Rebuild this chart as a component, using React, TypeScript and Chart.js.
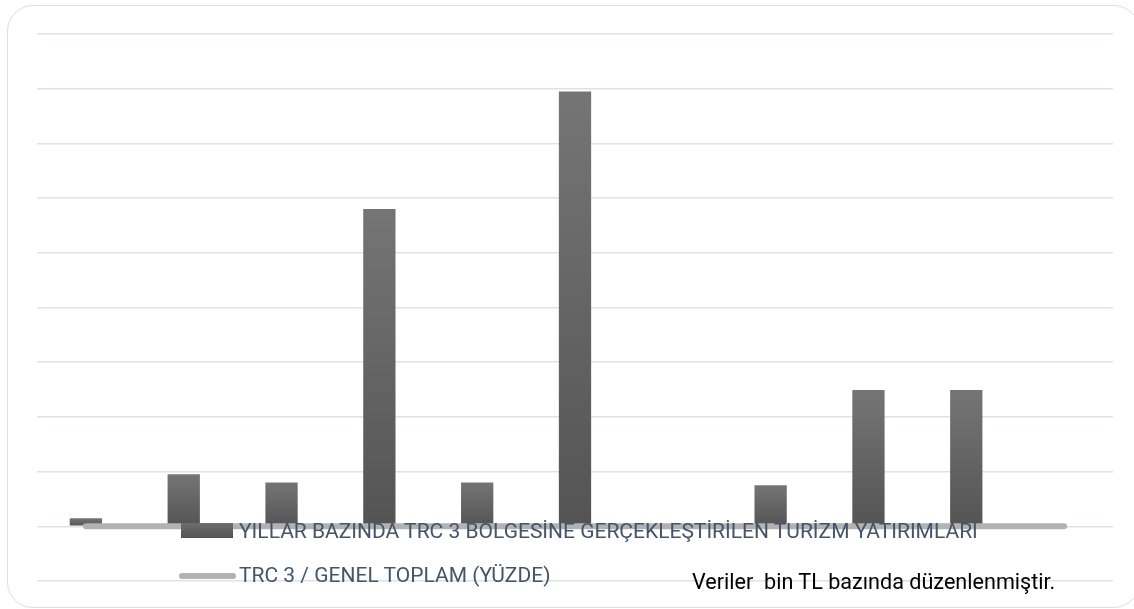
import React, { useEffect, useRef } from "react";
import { Chart, registerables } from "chart.js";

Chart.register(...registerables);

const years = ["2008", "2009", "2010", "2011", "2012", "2013", "2014", "2015", "2016", "2017", "2018"];
// Turizm yatırımları (bin TL)
const investments = [7300, 47500, 40000, 290000, 40000, 397500, 0, 37500, 124500, 124500, 0];
// TRC 3 / genel toplam (yüzde)
const sharePercent = [0.1, 0.8, 0.6, 3.2, 0.5, 4.1, 0, 0.4, 1.1, 1.1, 0];
const axisMin = -50000;
const axisMax = 450000;
const axisStep = 50000;

const legendBar = "YILLAR BAZINDA TRC 3 BÖLGESİNE GERÇEKLEŞTİRİLEN TURİZM YATIRIMLARI";
const legendLine = "TRC 3 / GENEL TOPLAM (YÜZDE)";
const note = "Veriler  bin TL bazında düzenlenmiştir.";

export default function App() {
  const ref = useRef<HTMLCanvasElement | null>(null);

  useEffect(() => {
    if (!ref.current) return;
    const chart = new Chart(ref.current, {
      type: "bar",
      data: {
        labels: years,
        datasets: [
          {
            type: "line",
            label: legendLine,
            data: sharePercent,
            borderColor: "#b2b2b2",
            borderWidth: 6,
            borderCapStyle: "round",
            borderJoinStyle: "round",
            pointRadius: 0,
            tension: 0,
            order: 0,
          } as any,
          {
            type: "bar",
            label: legendBar,
            data: investments,
            order: 1,
            categoryPercentage: 1,
            barPercentage: 0.33,
            backgroundColor: (ctx: any) => {
              const c = ctx.chart;
              if (!c.chartArea || ctx.type !== "data") return "#5f5f5f";
              const ys = c.scales.y;
              const top = ys.getPixelForValue(ctx.raw);
              const base = ys.getPixelForValue(0);
              if (!isFinite(top) || !isFinite(base) || Math.abs(base - top) < 1) return "#5f5f5f";
              const g = c.ctx.createLinearGradient(0, top, 0, base);
              g.addColorStop(0, "#757575");
              g.addColorStop(1, "#545454");
              return g;
            },
          } as any,
        ],
      },
      options: {
        animation: false,
        responsive: false,
        maintainAspectRatio: false,
        layout: { padding: { left: 37, right: 21, top: 34, bottom: 28 } },
        plugins: { legend: { display: false }, tooltip: { enabled: false } },
        scales: {
          x: { display: false, offset: true },
          y: {
            display: true,
            min: axisMin,
            max: axisMax,
            ticks: { display: false, stepSize: axisStep },
            border: { display: false },
            grid: { color: "#dde1e8", lineWidth: 1.5, drawTicks: false },
          },
        },
      },
    });
    return () => chart.destroy();
  }, []);

  const font = "Roboto, 'Noto Sans', sans-serif";
  return (
    <div
      style={{
        position: "fixed",
        left: 0,
        top: 0,
        width: 1134,
        height: 609,
        overflow: "hidden",
        background: "#ffffff",
      }}
    >
      <div
        style={{
          position: "absolute",
          left: 7,
          top: 5,
          width: 1133,
          height: 603,
          boxSizing: "border-box",
          border: "1.5px solid #dadfe6",
          borderRadius: 26,
        }}
      />
      <canvas ref={ref} width={1134} height={609} style={{ position: "absolute", left: 0, top: 0, width: 1134, height: 609 }} />
      <div
        style={{
          position: "absolute",
          left: 181,
          top: 523,
          width: 52,
          height: 15,
          background: "linear-gradient(#6e6e6e, #535353)",
        }}
      />
      <div
        style={{
          position: "absolute",
          left: 239,
          top: 521,
          fontFamily: font,
          fontSize: 21,
          lineHeight: "21px",
          color: "#44546a",
          whiteSpace: "pre",
        }}
      >
        {legendBar}
      </div>
      <div
        style={{
          position: "absolute",
          left: 179,
          top: 573,
          width: 57,
          height: 6,
          borderRadius: 3,
          background: "#b2b2b2",
        }}
      />
      <div
        style={{
          position: "absolute",
          left: 239,
          top: 565,
          fontFamily: font,
          fontSize: 21,
          lineHeight: "21px",
          color: "#44546a",
          whiteSpace: "pre",
        }}
      >
        {legendLine}
      </div>
      <div
        style={{
          position: "absolute",
          left: 692,
          top: 571,
          fontFamily: font,
          fontSize: 21.6,
          lineHeight: "21.6px",
          color: "#000000",
          whiteSpace: "pre",
        }}
      >
        {note}
      </div>
    </div>
  );
}
